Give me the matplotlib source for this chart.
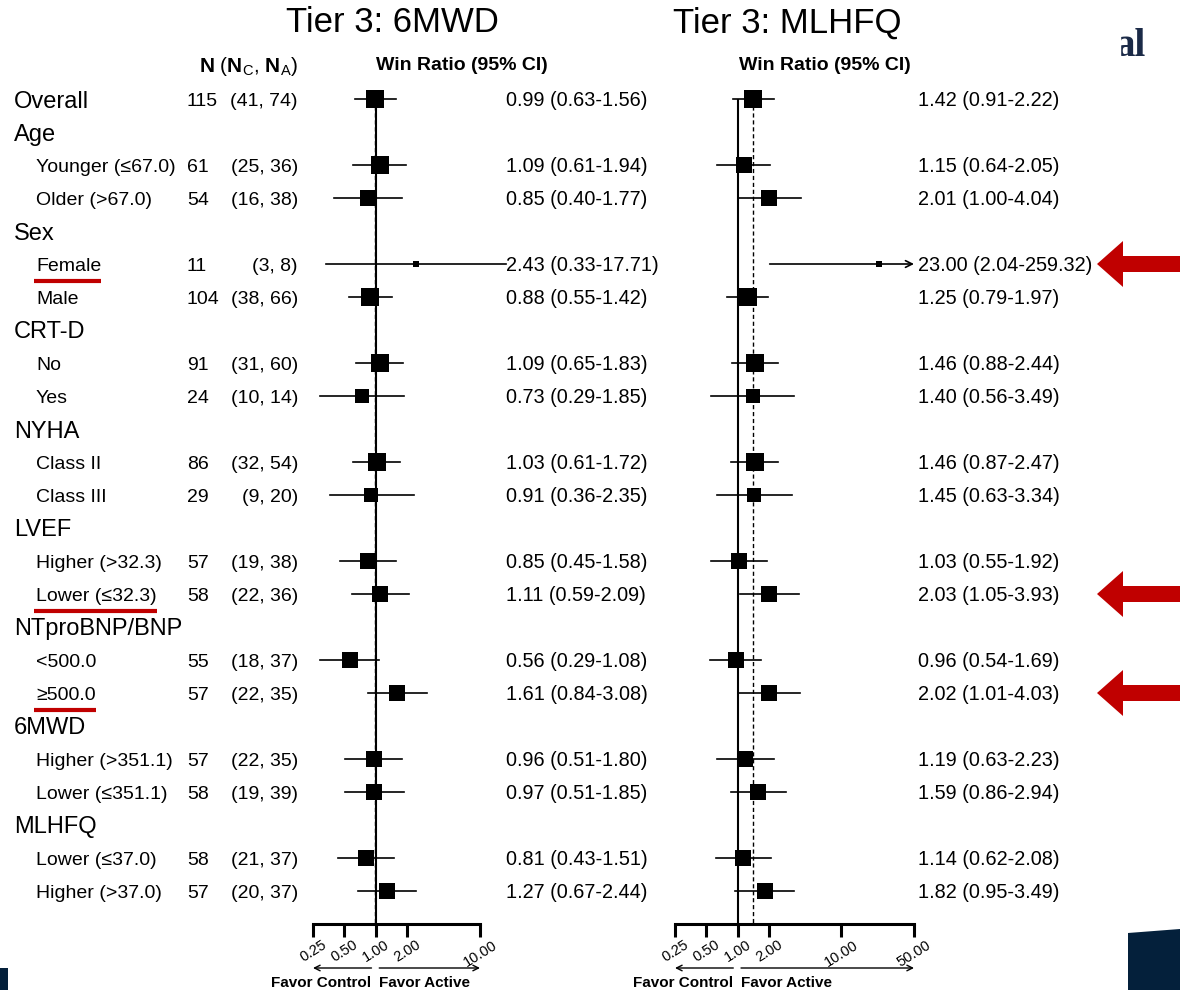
import matplotlib
matplotlib.use('Agg')
import matplotlib.pyplot as plt
import numpy as np
from matplotlib import transforms, patches
from matplotlib.ticker import NullLocator

plt.rcParams['font.family'] = ['Liberation Sans', 'DejaVu Sans']
plt.rcParams['mathtext.fontset'] = 'custom'
plt.rcParams['mathtext.rm'] = 'Liberation Sans'
plt.rcParams['mathtext.bf'] = 'Liberation Sans:bold'
plt.rcParams['mathtext.it'] = 'Liberation Sans:italic'

# ---- data ----
labels = ['Overall', 'Age', 'Younger (≤67.0)', 'Older (>67.0)', 'Sex', 'Female', 'Male',
          'CRT-D', 'No', 'Yes', 'NYHA', 'Class II', 'Class III', 'LVEF',
          'Higher (>32.3)', 'Lower (≤32.3)', 'NTproBNP/BNP', '<500.0', '≥500.0',
          '6MWD', 'Higher (>351.1)', 'Lower (≤351.1)', 'MLHFQ', 'Lower (≤37.0)', 'Higher (>37.0)']
level = [0, 0, 1, 1, 0, 1, 1, 0, 1, 1, 0, 1, 1, 0, 1, 1, 0, 1, 1, 0, 1, 1, 0, 1, 1]

n_total = [115, None, 61, 54, None, 11, 104, None, 91, 24, None, 86, 29, None,
           57, 58, None, 55, 57, None, 57, 58, None, 58, 57]
n_ctrl = [41, None, 25, 16, None, 3, 38, None, 31, 10, None, 32, 9, None,
          19, 22, None, 18, 22, None, 22, 19, None, 21, 20]
n_act = [74, None, 36, 38, None, 8, 66, None, 60, 14, None, 54, 20, None,
         38, 36, None, 37, 35, None, 35, 39, None, 37, 37]

nan = np.nan
# Tier 3: 6MWD
wr_6mwd = [0.99, nan, 1.09, 0.85, nan, 2.43, 0.88, nan, 1.09, 0.73, nan, 1.03, 0.91, nan,
           0.85, 1.11, nan, 0.56, 1.61, nan, 0.96, 0.97, nan, 0.81, 1.27]
lo_6mwd = [0.63, nan, 0.61, 0.40, nan, 0.33, 0.55, nan, 0.65, 0.29, nan, 0.61, 0.36, nan,
           0.45, 0.59, nan, 0.29, 0.84, nan, 0.51, 0.51, nan, 0.43, 0.67]
hi_6mwd = [1.56, nan, 1.94, 1.77, nan, 17.71, 1.42, nan, 1.83, 1.85, nan, 1.72, 2.35, nan,
           1.58, 2.09, nan, 1.08, 3.08, nan, 1.80, 1.85, nan, 1.51, 2.44]
# Tier 3: MLHFQ
wr_mlhfq = [1.42, nan, 1.15, 2.01, nan, 23.00, 1.25, nan, 1.46, 1.40, nan, 1.46, 1.45, nan,
            1.03, 2.03, nan, 0.96, 2.02, nan, 1.19, 1.59, nan, 1.14, 1.82]
lo_mlhfq = [0.91, nan, 0.64, 1.00, nan, 2.04, 0.79, nan, 0.88, 0.56, nan, 0.87, 0.63, nan,
            0.55, 1.05, nan, 0.54, 1.01, nan, 0.63, 0.86, nan, 0.62, 0.95]
hi_mlhfq = [2.22, nan, 2.05, 4.04, nan, 259.32, 1.97, nan, 2.44, 3.49, nan, 2.47, 3.34, nan,
            1.92, 3.93, nan, 1.69, 4.03, nan, 2.23, 2.94, nan, 2.08, 3.49]

highlight = ['Female', 'Lower (≤32.3)', '≥500.0']

W, H = 1180, 990
RED = '#C00000'
NAVY = '#04203B'

fig = plt.figure(figsize=(W / 100, H / 100), dpi=100)

# background axes in pixel units for free text and decorations
bg = fig.add_axes([0, 0, 1, 1])
bg.set_xlim(0, W)
bg.set_ylim(H, 0)
bg.axis('off')

nrow = len(labels)
y_top_px, y_bot_px = 80, 924
row0_px, row_step = 99, 33


def panel_axes(x0, x1):
    return fig.add_axes([x0 / W, (H - y_bot_px) / H, (x1 - x0) / W, (y_bot_px - y_top_px) / H])


axL = panel_axes(313, 480)
axR = panel_axes(675, 914)


def row_px(i):
    return bg.transData.inverted().transform(axL.transData.transform((1, i)))[1]


def row_tr(ax, size):
    # x in pixels, y in row units, baseline shifted so the cap height is centred on the row
    base = transforms.blended_transform_factory(bg.transData, ax.transData)
    return transforms.offset_copy(base, fig, y=-0.36 * size * 100 / 72, units='dots')


def draw_panel(ax, est, lo, hi, xmax, ticks, ci_x, clip=50):
    est, lo, hi = np.array(est), np.array(lo), np.array(hi)
    ax.set_xscale('log')
    ax.set_xlim(0.25, xmax)
    ax.set_ylim(nrow, -(row0_px - y_top_px) / row_step)
    ax.patch.set_alpha(0)
    for s in ['top', 'left', 'right']:
        ax.spines[s].set_visible(False)
    ax.spines['bottom'].set_linewidth(2.2)
    ax.set_yticks([])
    ax.set_xticks(ticks)
    ax.xaxis.set_minor_locator(NullLocator())
    ax.set_xticklabels([f'{t:.2f}' for t in ticks], rotation=32, ha='center', fontsize=10.5)
    ax.tick_params(axis='x', length=9, width=2.2, pad=1)

    ax.vlines(1, 0, nrow, color='black', lw=1.5, clip_on=False, zorder=1)
    ax.vlines(est[0], 0, nrow, color='black', lw=1, linestyles=(0, (3, 2)), clip_on=False, zorder=1)

    ok = ~np.isnan(est)
    w = np.log(hi[ok]) - np.log(lo[ok])
    info = w.min() / w
    side = 18.5 * np.clip((info - 0.22) / 0.78, 0.01, 1) ** 0.26

    tr = row_tr(ax, 14.3)
    for k, i in enumerate(np.where(ok)[0]):
        if hi[i] > clip:
            ax.annotate('', xy=(clip, i), xytext=(lo[i], i), annotation_clip=False,
                        arrowprops=dict(arrowstyle='->', lw=1.2, color='black',
                                        shrinkA=0, shrinkB=0, mutation_scale=12))
        else:
            ax.plot([lo[i], hi[i]], [i, i], color='black', lw=1.2, clip_on=False, zorder=2)
        ax.plot(est[i], i, marker='s', ms=side[k] * 0.72, color='black', mew=0,
                clip_on=False, zorder=3)
        ax.text(ci_x, i, f'{est[i]:.2f} ({lo[i]:.2f}-{hi[i]:.2f})', transform=tr,
                ha='left', va='baseline', fontsize=14.3)

    # favour arrows below the axis
    ftr = transforms.blended_transform_factory(ax.transData, bg.transData)
    ax.annotate('', xy=(0.25, 968), xytext=(0.91, 968), xycoords=ftr, textcoords=ftr,
                arrowprops=dict(arrowstyle='->', lw=1, color='black', shrinkA=0, shrinkB=0,
                                mutation_scale=10), annotation_clip=False)
    ax.annotate('', xy=(xmax, 968), xytext=(1.08, 968), xycoords=ftr, textcoords=ftr,
                arrowprops=dict(arrowstyle='->', lw=1, color='black', shrinkA=0, shrinkB=0,
                                mutation_scale=10), annotation_clip=False)
    ax.text(0.91, 983, 'Favor Control', transform=ftr, ha='right', va='center',
            fontsize=11, fontweight='bold')
    ax.text(1.08, 983, 'Favor Active', transform=ftr, ha='left', va='center',
            fontsize=11, fontweight='bold')


draw_panel(axL, wr_6mwd, lo_6mwd, hi_6mwd, 10, [0.25, 0.5, 1, 2, 10], 506)
draw_panel(axR, wr_mlhfq, lo_mlhfq, hi_mlhfq, 50, [0.25, 0.5, 1, 2, 10, 50], 918)

# titles and column headers
bg.text(392, 23, 'Tier 3: 6MWD', ha='center', va='center', fontsize=25)
bg.text(787, 23, 'Tier 3: MLHFQ', ha='center', va='center', fontsize=25)
bg.text(298, 66, r'$\mathbf{N}$ ($\mathbf{N}_{\mathrm{C}}$, $\mathbf{N}_{\mathrm{A}}$)',
        ha='right', va='center', fontsize=15)
bg.text(462, 66, 'Win Ratio (95% CI)', ha='center', va='center', fontsize=14, fontweight='bold')
bg.text(825, 66, 'Win Ratio (95% CI)', ha='center', va='center', fontsize=14, fontweight='bold')

# row labels and N column
tr_head = row_tr(axL, 17)
tr_sub = row_tr(axL, 14)
label_txt = {}
for i, lab in enumerate(labels):
    if level[i] == 0:
        t = bg.text(14, i, lab, transform=tr_head, ha='left', va='baseline', fontsize=17)
    else:
        t = bg.text(36, i, lab, transform=tr_sub, ha='left', va='baseline', fontsize=14)
    label_txt[lab] = (i, t)
    if n_total[i] is not None:
        bg.text(187, i, f'{n_total[i]}', transform=tr_sub, ha='left', va='baseline',
                fontsize=14)
        bg.text(298, i, f'({n_ctrl[i]}, {n_act[i]})', transform=tr_sub, ha='right',
                va='baseline', fontsize=14)

# highlight marks: red underline + red arrow at the right edge
fig.canvas.draw()
inv = bg.transData.inverted()
for lab in highlight:
    i, t = label_txt[lab]
    bb = t.get_window_extent()
    xa = inv.transform((bb.x0, bb.y0))[0]
    xb = inv.transform((bb.x1, bb.y0))[0]
    yp = row_px(i)
    bg.plot([xa - 2, xb], [yp + 17, yp + 17], color=RED, lw=3, solid_capstyle='butt')
    bg.add_patch(patches.FancyArrow(W + 2, yp, -85, 0, width=16, head_width=46,
                                    head_length=26, length_includes_head=True,
                                    color=RED, lw=0))

# slide remnants: logo fragment and navy corners
bg.text(1146, 47, 'al', ha='right', va='center', fontsize=28, fontweight='bold',
        family='Liberation Serif', color='#1B2A47', zorder=1)
bg.add_patch(patches.Rectangle((1090, 20), 30, 55, color='white', zorder=2))
bg.add_patch(patches.Polygon([(1128, 933), (1180, 929), (1180, 990), (1128, 990)],
                             color=NAVY, lw=0))
bg.add_patch(patches.Rectangle((0, 968), 8, 22, color=NAVY, lw=0))

fig.savefig('out.png', dpi=100)
